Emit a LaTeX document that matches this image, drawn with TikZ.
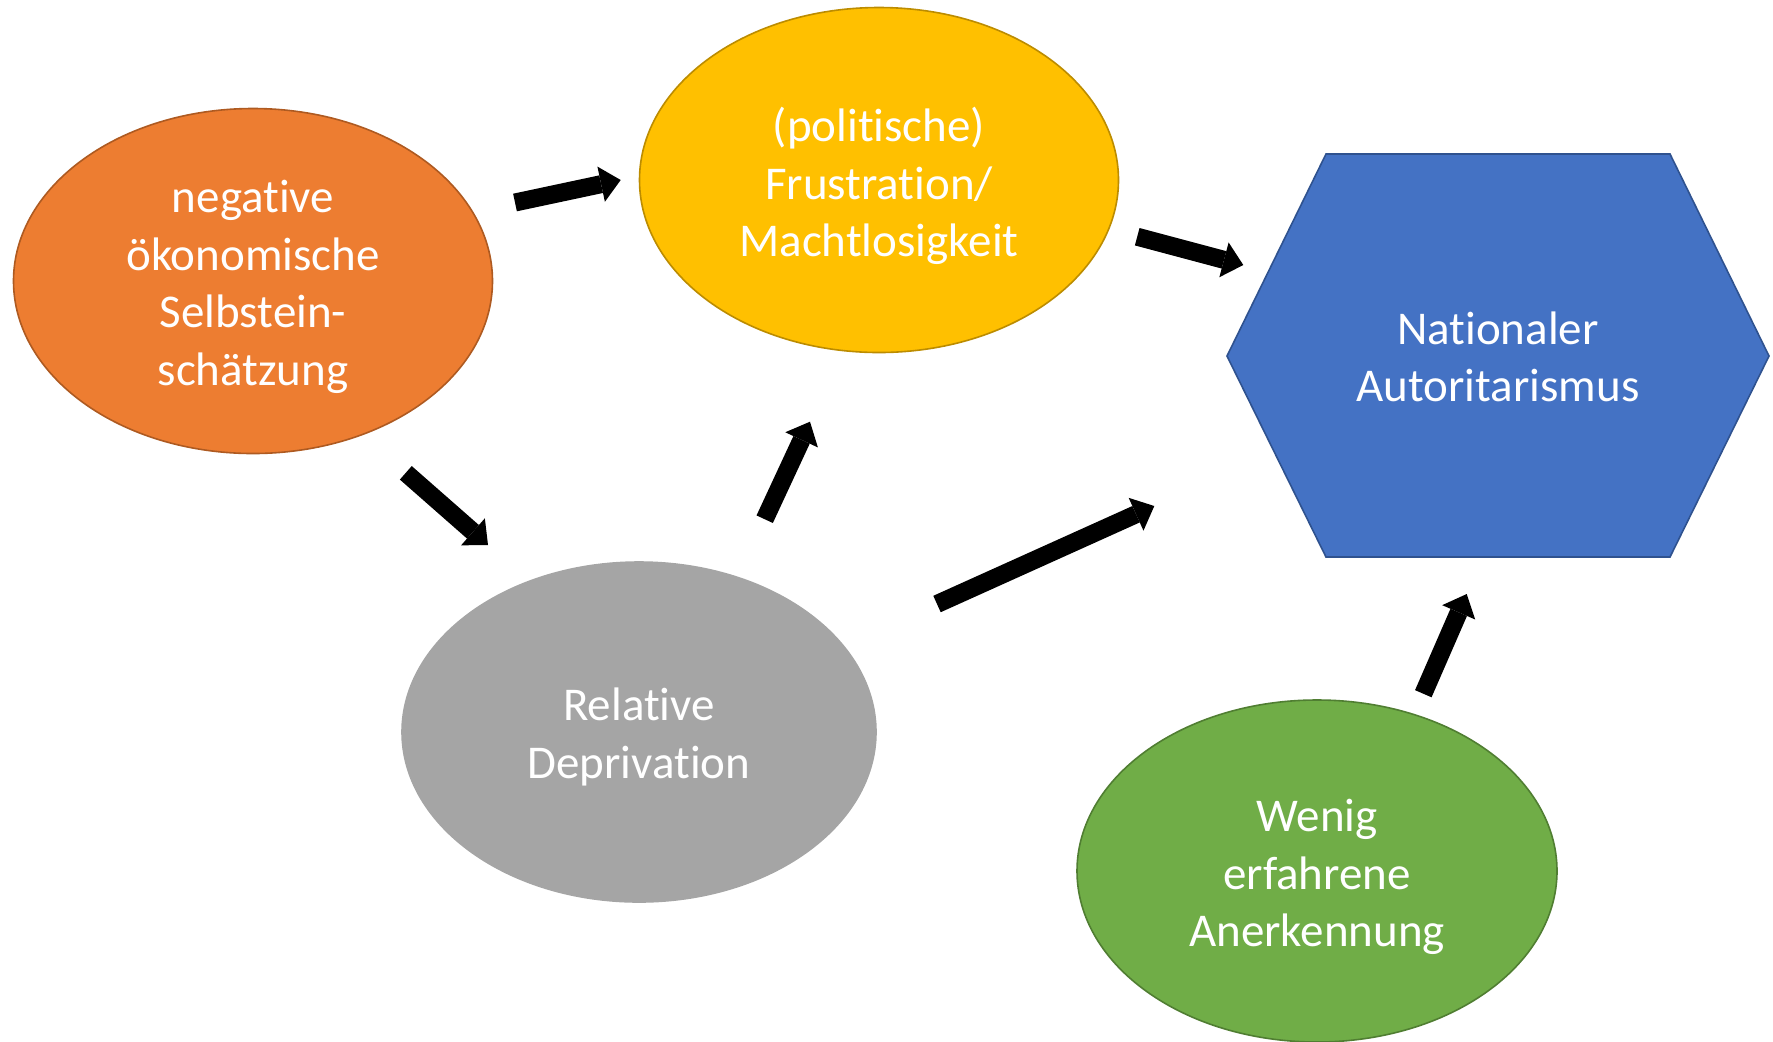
\documentclass[tikz,border=0pt]{standalone}
\usepackage{fontspec}
\setmainfont{Carlito}[Ligatures=NoCommon]
\usetikzlibrary{shapes.geometric,arrows.meta}
\definecolor{orangeF}{HTML}{ED7D31}
\definecolor{orangeD}{HTML}{AE5A21}
\definecolor{yellowF}{HTML}{FFC000}
\definecolor{yellowD}{HTML}{BC8C00}
\definecolor{grayF}{HTML}{A5A5A5}
\definecolor{grayD}{HTML}{A5A5A5}
\definecolor{blueF}{HTML}{4472C4}
\definecolor{blueD}{HTML}{2F528F}
\definecolor{greenF}{HTML}{70AD47}
\definecolor{greenD}{HTML}{507E32}
\begin{document}
\begin{tikzpicture}[x=0.5pt,y=-0.5pt,
  bubble/.style={ellipse, inner sep=0pt, line width=0.8pt},
  label/.style={inner sep=0pt, align=center, text=white,
    font=\fontsize{23.5pt}{28.75pt}\selectfont},
  blockarrow/.style={draw=black, line width=9pt,
    -{Triangle[length=10pt,width=18pt,line width=0pt]}}]
\useasboundingbox (0,0) rectangle (1773,1041);
% ellipses
\node[bubble, fill=orangeF, draw=orangeD, minimum width=479pt/2, minimum height=345pt/2]
  (oek) at (253,281) {};
\node[bubble, fill=yellowF, draw=yellowD, minimum width=479pt/2, minimum height=345pt/2]
  (frus) at (879,180) {};
\node[bubble, fill=grayF, draw=grayD, minimum width=474pt/2, minimum height=340pt/2]
  (depr) at (639,732) {};
\node[bubble, fill=greenF, draw=greenD, minimum width=480pt/2, minimum height=342pt/2]
  (anerk) at (1317,871) {};
\node[label] (oekT) at (253,287) {negative\\ökonomische\\Selbstein-\\schätzung};
\node[label] (frusT) at (879,186) {(politische)\\Frustration/\\Machtlosigkeit};
\node[label] (deprT) at (639,737) {Relative\\Deprivation};
\node[label] (anerkT) at (1317,877) {Wenig\\erfahrene\\Anerkennung};
% hexagon
\draw[fill=blueF, draw=blueD, line width=0.8pt, line join=miter]
  (1227,356) -- (1326,154) -- (1670,154) -- (1769,356) -- (1670,557) -- (1326,557) -- cycle;
\node[label] (nat) at (1498,357) {Nationaler\\Autoritarismus};
% arrow end points
\coordinate (a1) at (515,202.5);  \coordinate (a2) at (620.7,180);
\coordinate (b1) at (405.8,472.8); \coordinate (b2) at (488,545);
\coordinate (c1) at (764.7,519.2); \coordinate (c2) at (810,421.7);
\coordinate (d1) at (1137.2,236.7); \coordinate (d2) at (1243.3,265);
\coordinate (e1) at (937,604);   \coordinate (e2) at (1154.3,506);
\coordinate (f1) at (1423.3,693.7); \coordinate (f2) at (1466.7,594);
\draw[blockarrow] (a1) -- (a2);
\draw[blockarrow] (b1) -- (b2);
\draw[blockarrow] (c1) -- (c2);
\draw[blockarrow] (d1) -- (d2);
\draw[blockarrow] (e1) -- (e2);
\draw[blockarrow] (f1) -- (f2);
\end{tikzpicture}
\end{document}
